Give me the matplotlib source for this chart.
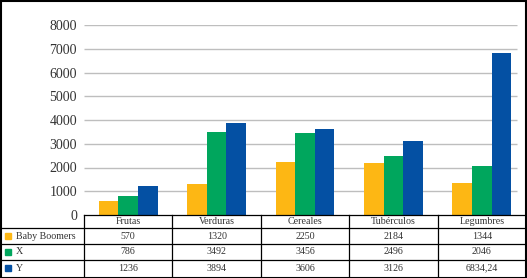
import matplotlib
matplotlib.use("Agg")
import matplotlib.pyplot as plt
from matplotlib.patches import Rectangle
from matplotlib.lines import Line2D

categories = ["Frutas", "Verduras", "Cereales", "Tubérculos", "Legumbres"]
series_names = ["Baby Boomers", "X", "Y"]
baby_boomers = [570, 1320, 2250, 2184, 1344]
gen_x = [786, 3492, 3456, 2496, 2046]
gen_y = [1236, 3894, 3606, 3126, 6834.24]
table_labels = [
    ["570", "1320", "2250", "2184", "1344"],
    ["786", "3492", "3456", "2496", "2046"],
    ["1236", "3894", "3606", "3126", "6834,24"],
]
yticks = [0, 1000, 2000, 3000, 4000, 5000, 6000, 7000, 8000]
colors = ["#FDB714", "#00A65D", "#0450A3"]

W, H = 527, 278
plt.rcParams['font.family'] = ['Liberation Serif', 'DejaVu Serif']
fig = plt.figure(figsize=(W / 100, H / 100), dpi=100)

def fx(px):
    return px / W

def fy(py):
    return 1 - py / H

left_px, right_px = 84, 526
top_px, bottom_px = 25, 215
ax = fig.add_axes([fx(left_px), fy(bottom_px), fx(right_px - left_px), (bottom_px - top_px) / H])
ax.set_xlim(-0.5, len(categories) - 0.5)
ax.set_ylim(0, 8000)

bw = 0.222
for i, (vals, c) in enumerate(zip([baby_boomers, gen_x, gen_y], colors)):
    xs = [k + (i - 1) * bw for k in range(len(categories))]
    ax.bar(xs, vals, width=bw, color=c, zorder=3)

grid_end = (517 - left_px) / (right_px - left_px) * len(categories) - 0.5
ax.hlines(yticks[1:], -0.5, grid_end, color="#BEBEBE", linewidth=1.0, zorder=1)

for s in ax.spines.values():
    s.set_visible(False)
ax.set_xticks([])
ax.set_yticks(yticks)
ax.set_yticklabels([str(t) for t in yticks], fontsize=10, color="#333333")
ax.tick_params(axis='y', length=0, pad=5)

# Table
text_color = "#333333"
col_edges = [84, 172.4, 260.8, 349.2, 437.6, 526]
row_edges = [215, 228.3, 244, 260, 276.5]
lw = 0.9
fig.add_artist(Line2D([fx(84), fx(526)], [fy(row_edges[0])] * 2, color="black", lw=lw))
for ry in row_edges[1:-1]:
    fig.add_artist(Line2D([fx(0), fx(526)], [fy(ry)] * 2, color="black", lw=lw))
for cx in col_edges[:-1]:
    fig.add_artist(Line2D([fx(cx)] * 2, [fy(row_edges[0]), fy(row_edges[-1])], color="black", lw=lw))

for j, cat in enumerate(categories):
    cxm = (col_edges[j] + col_edges[j + 1]) / 2
    fig.text(fx(cxm), fy((row_edges[0] + row_edges[1]) / 2), cat, ha="center", va="center",
             fontsize=7.2, color=text_color)

for i, name in enumerate(series_names):
    ym = (row_edges[i + 1] + row_edges[i + 2]) / 2
    fig.add_artist(Rectangle((fx(5), fy(ym + 3)), fx(6), 6 / H, color=colors[i], transform=fig.transFigure))
    fig.text(fx(16), fy(ym), name, ha="left", va="center", fontsize=7.2, color=text_color)
    for j in range(len(categories)):
        cxm = (col_edges[j] + col_edges[j + 1]) / 2
        fig.text(fx(cxm), fy(ym), table_labels[i][j], ha="center", va="center",
                 fontsize=7.2, color=text_color)

fig.add_artist(Rectangle((0.5 / W, 0.5 / H), (W - 1.5) / W, (H - 1.5) / H, fill=False,
                         edgecolor="black", lw=1.5, transform=fig.transFigure))

fig.savefig("out.png", dpi=100)
